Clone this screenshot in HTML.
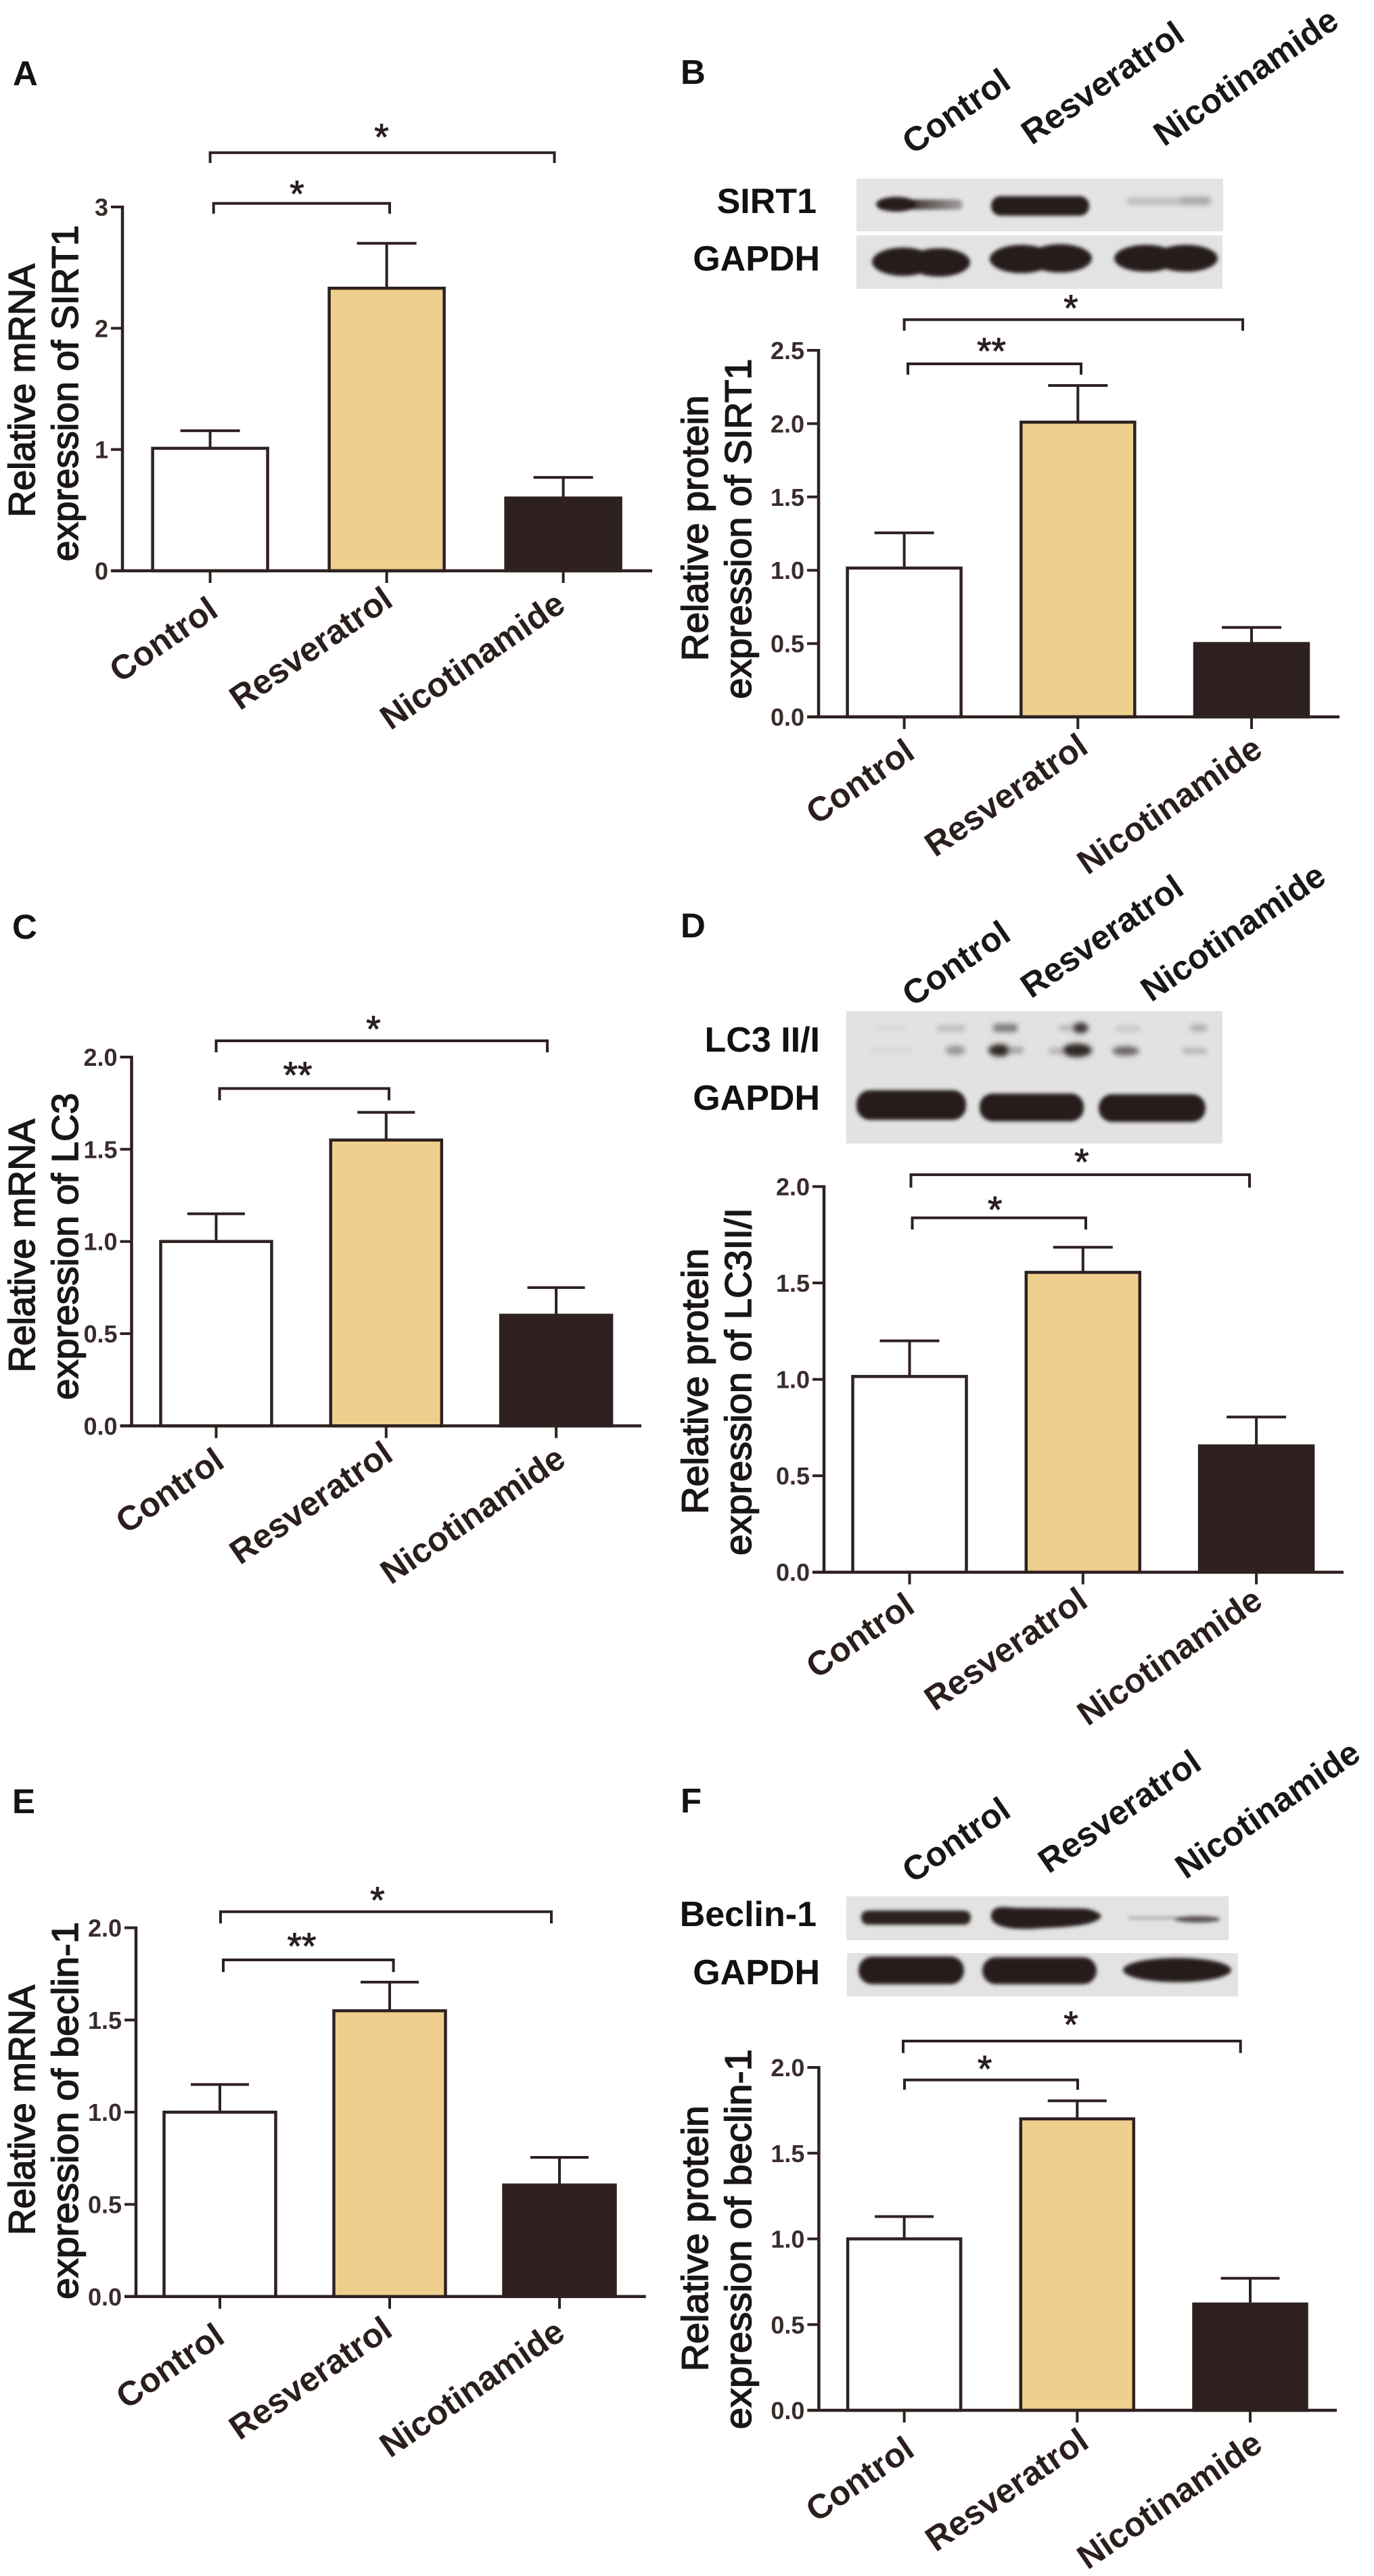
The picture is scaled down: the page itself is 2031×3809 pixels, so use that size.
<!DOCTYPE html>
<html lang="en">
<head>
<meta charset="utf-8">
<title>SIRT1, LC3 and Beclin-1 expression</title>
<style>
html,body{margin:0;padding:0;background:#fff;width:2031px;height:3809px;overflow:hidden}
svg{display:block}
text{font-family:"Liberation Sans",Arial,sans-serif}
.letter{font-size:51px;font-weight:700;fill:#141212}
.blot-label{font-size:52px;font-weight:700;fill:#111;text-anchor:end}
.lane{font-size:50.5px;font-weight:700;fill:#1a1716;text-anchor:end}
.d{fill:#271b1a}
</style>
</head>
<body>
<svg id="figure" xmlns="http://www.w3.org/2000/svg" width="2031" height="3809" viewBox="0 0 2031 3809">
<defs>
<filter id="soft" filterUnits="userSpaceOnUse" x="1200" y="0" width="831" height="3809"><feGaussianBlur stdDeviation="2.6"/></filter>
<filter id="softer" filterUnits="userSpaceOnUse" x="1200" y="0" width="831" height="3809"><feGaussianBlur stdDeviation="4"/></filter>
<linearGradient id="fade-right" x1="0" x2="1" y1="0" y2="0"><stop offset="0" stop-color="#271b1a"/><stop offset="0.45" stop-color="#4a403e"/><stop offset="1" stop-color="#a5a2a1"/></linearGradient>
</defs>
<rect x="0" y="0" width="2031" height="3809" fill="#ffffff"/>

<text class="letter" x="19" y="126">A</text>
<text class="letter" x="1006" y="124">B</text>
<text class="letter" x="18" y="1388">C</text>
<text class="letter" x="1006" y="1386">D</text>
<text class="letter" x="18" y="2681">E</text>
<text class="letter" x="1006" y="2680">F</text>

<!-- Panel B blot -->
<g>
<text class="lane" transform="translate(1497,128) rotate(-34.5)">Control</text>
<text class="lane" transform="translate(1754,58) rotate(-34.5)">Resveratrol</text>
<text class="lane" transform="translate(1982,38) rotate(-34.5)">Nicotinamide</text>
<text class="blot-label" x="1207" y="315">SIRT1</text>
<text class="blot-label" x="1212" y="400">GAPDH</text>
<rect x="1266" y="264" width="542" height="78" fill="#e4e4e4"/>
<rect x="1266" y="348" width="541" height="79" fill="#e3e3e3"/>
<g filter="url(#soft)">
<rect x="1297" y="295" width="126" height="15" rx="7" fill="url(#fade-right)"/>
<ellipse cx="1325" cy="302" rx="30" ry="11" class="d"/>
<rect x="1465" y="290" width="145" height="29" rx="14" class="d"/>
</g>
<g filter="url(#softer)">
<rect x="1665" y="292" width="125" height="11" rx="5" fill="#bfbebe"/>
<rect x="1745" y="291" width="45" height="12" rx="5" fill="#a8a6a6"/>
</g>
<g filter="url(#soft)">
<ellipse cx="1335" cy="387" rx="46" ry="21" class="d"/><ellipse cx="1388" cy="388" rx="46" ry="21" class="d"/>
<ellipse cx="1510" cy="383" rx="47" ry="21" class="d"/><ellipse cx="1567" cy="382" rx="47" ry="21" class="d"/>
<ellipse cx="1694" cy="382" rx="47" ry="20" class="d"/><ellipse cx="1753" cy="382" rx="47" ry="20" class="d"/>
</g>
</g>

<!-- Panel D blot -->
<g>
<text class="lane" transform="translate(1497,1388) rotate(-34.5)">Control</text>
<text class="lane" transform="translate(1753,1320) rotate(-34.5)">Resveratrol</text>
<text class="lane" transform="translate(1963,1303) rotate(-34.5)">Nicotinamide</text>
<text class="blot-label" x="1212" y="1555">LC3 II/I</text>
<text class="blot-label" x="1212" y="1641">GAPDH</text>
<rect x="1251" y="1495" width="556" height="196" fill="#e2e2e2"/>
<g filter="url(#softer)">
<rect x="1292" y="1517" width="45" height="6" fill="#d6d6d6"/>
<rect x="1385" y="1516" width="42" height="9" rx="3" fill="#bdbcbc"/>
<rect x="1468" y="1514" width="36" height="12" rx="4" fill="#7e7a79"/>
<rect x="1565" y="1516" width="24" height="8" rx="3" fill="#b4b2b2"/>
<ellipse cx="1597" cy="1520" rx="12" ry="8" fill="#3f3634"/>
<rect x="1650" y="1517" width="36" height="8" rx="3" fill="#c5c4c4"/>
<rect x="1760" y="1515" width="24" height="10" rx="4" fill="#acaaaa"/>
<rect x="1288" y="1550" width="60" height="7" fill="#d6d6d6"/>
<ellipse cx="1412" cy="1553" rx="15" ry="7" fill="#9a9796"/>
<ellipse cx="1478" cy="1553" rx="17" ry="9" fill="#2f2523"/><rect x="1490" y="1549" width="22" height="8" fill="#959291"/>
<rect x="1550" y="1550" width="30" height="8" rx="3" fill="#b0aeae"/>
<ellipse cx="1592" cy="1553" rx="22" ry="10" fill="#2f2523"/>
<ellipse cx="1664" cy="1554" rx="20" ry="7" fill="#6c6665"/>
<rect x="1748" y="1550" width="36" height="8" rx="3" fill="#b2b0b0"/>
</g>
<g filter="url(#soft)">
<rect x="1266" y="1612" width="162" height="44" rx="20" class="d"/>
<rect x="1448" y="1617" width="154" height="41" rx="19" class="d"/>
<rect x="1624" y="1618" width="158" height="41" rx="20" class="d"/>
</g>
</g>

<!-- Panel F blot -->
<g>
<text class="lane" transform="translate(1497,2684) rotate(-34.5)">Control</text>
<text class="lane" transform="translate(1779,2614) rotate(-34.5)">Resveratrol</text>
<text class="lane" transform="translate(2014,2600) rotate(-34.5)">Nicotinamide</text>
<text class="blot-label" x="1207" y="2848">Beclin-1</text>
<text class="blot-label" x="1212" y="2934">GAPDH</text>
<rect x="1251" y="2804" width="565" height="65" fill="#e3e3e3"/>
<rect x="1252" y="2888" width="578" height="64" fill="#e3e3e3"/>
<g filter="url(#soft)">
<rect x="1273" y="2825" width="162" height="21" rx="10" fill="#2c201f"/>
<path d="M1465 2834 C1465 2818 1480 2819 1500 2821 L1600 2822 C1615 2822 1628 2830 1628 2834 C1620 2844 1600 2849 1540 2851 C1500 2855 1465 2850 1465 2834Z" class="d"/>
<rect x="1668" y="2834" width="90" height="4" fill="#a9a7a7"/>
<ellipse cx="1770" cy="2838" rx="34" ry="5" fill="#5e5756"/>
</g>
<g filter="url(#soft)">
<rect x="1269" y="2893" width="156" height="41" rx="20" class="d"/>
<rect x="1452" y="2894" width="169" height="40" rx="20" class="d"/>
<ellipse cx="1740" cy="2913" rx="80" ry="18" class="d"/>
</g>
</g>
</svg>

<script>
const categories = ['Control', 'Resveratrol', 'Nicotinamide'];

const aValues = [1.01, 2.33, 0.60];
const aErrorTops = [1.155, 2.70, 0.77];
const aTicks = [0, 1, 2, 3];
const aTickLabels = ['0', '1', '2', '3'];

const bValues = [1.015, 2.01, 0.50];
const bErrorTops = [1.255, 2.26, 0.61];
const bTicks = [0, 0.5, 1, 1.5, 2, 2.5];
const bTickLabels = ['0.0', '0.5', '1.0', '1.5', '2.0', '2.5'];

const cValues = [1.0, 1.55, 0.60];
const cErrorTops = [1.15, 1.70, 0.75];
const cTicks = [0, 0.5, 1, 1.5, 2];
const cTickLabels = ['0.0', '0.5', '1.0', '1.5', '2.0'];

const dValues = [1.015, 1.555, 0.655];
const dErrorTops = [1.20, 1.685, 0.805];
const dTicks = [0, 0.5, 1, 1.5, 2];
const dTickLabels = ['0.0', '0.5', '1.0', '1.5', '2.0'];

const eValues = [1.0, 1.55, 0.605];
const eErrorTops = [1.15, 1.705, 0.755];
const eTicks = [0, 0.5, 1, 1.5, 2];
const eTickLabels = ['0.0', '0.5', '1.0', '1.5', '2.0'];

const fValues = [1.0, 1.70, 0.62];
const fErrorTops = [1.13, 1.805, 0.77];
const fTicks = [0, 0.5, 1, 1.5, 2];
const fTickLabels = ['0.0', '0.5', '1.0', '1.5', '2.0'];

const SVG_NS = 'http://www.w3.org/2000/svg';
const figure = document.getElementById('figure');
const INK = '#2e2120';
const FILLS = ['#ffffff', '#eecf8d', '#2d201e'];

function make(parent, tag, attrs, text) {
  const el = document.createElementNS(SVG_NS, tag);
  for (const key in attrs) el.setAttribute(key, attrs[key]);
  if (text !== undefined) el.textContent = text;
  parent.appendChild(el);
  return el;
}

function drawChart(id, values, errorTops, ticks, tickLabels, L) {
  const yMax = ticks[ticks.length - 1];
  const yScale = v => L.base - (v / yMax) * (L.base - L.top);
  const xScale = i => L.firstX + i * L.step;

  const panel = make(figure, 'g', {});
  
  

  const t1 = make(panel, 'text', { transform: 'translate(' + L.title1X + ',' + L.title1Y + ') rotate(-90)', 'text-anchor': 'middle', 'font-size': 55, fill: '#1a1615', stroke: '#1a1615', 'stroke-width': 1.6, textLength: L.title1Len, lengthAdjust: 'spacingAndGlyphs' }, L.title1);
  
  
  const t2 = make(panel, 'text', { transform: 'translate(' + L.title2X + ',' + L.title2Y + ') rotate(-90)', 'text-anchor': 'middle', 'font-size': 55, fill: '#1a1615', stroke: '#1a1615', 'stroke-width': 1.6, textLength: L.title2Len, lengthAdjust: 'spacingAndGlyphs' }, L.title2);
  
  

  values.forEach((v, i) => {
    const c = xScale(i);
    const stem = make(panel, 'line', { x1: c, x2: c, y1: yScale(v), y2: yScale(errorTops[i]), stroke: INK, 'stroke-width': 4 });
    
    
    const cap = make(panel, 'line', { x1: c - L.capW / 2, x2: c + L.capW / 2, y1: yScale(errorTops[i]), y2: yScale(errorTops[i]), stroke: INK, 'stroke-width': 4 });
    
    
    const bar = make(panel, 'rect', { x: c - L.barW / 2 + 2, y: yScale(v), width: L.barW - 4, height: L.base - yScale(v), fill: FILLS[i], stroke: INK, 'stroke-width': 4.5 });
    
    
  });

  const yAxis = make(panel, 'line', { x1: L.axisX, x2: L.axisX, y1: yScale(yMax) - 2, y2: L.base + 2, stroke: INK, 'stroke-width': 4.5 });
  
  
  const xAxis = make(panel, 'line', { x1: L.axisX - 17, x2: L.xEnd, y1: L.base, y2: L.base, stroke: INK, 'stroke-width': 4.5 });
  
  

  ticks.forEach((t, i) => {
    const y = yScale(t);
    const mark = make(panel, 'line', { x1: L.axisX - 17, x2: L.axisX, y1: y, y2: y, stroke: INK, 'stroke-width': 4 });
    
    
    const label = make(panel, 'text', { x: L.axisX - 21, y: y + 13, 'text-anchor': 'end', 'font-size': 36, 'font-weight': 700, fill: '#3a2c2a' }, tickLabels[i]);
    
    
  });

  categories.forEach((name, i) => {
    const c = xScale(i);
    const mark = make(panel, 'line', { x1: c, x2: c, y1: L.base, y2: L.base + 18, stroke: INK, 'stroke-width': 4 });
    
    
    const label = make(panel, 'text', { transform: 'translate(' + (c + L.labelDx[i]) + ',' + (L.base + L.labelDy[i]) + ') rotate(-34.5)', 'text-anchor': 'end', 'font-size': 50.5, 'font-weight': 700, fill: '#2b1f1e' }, name);
    
    
  });

  L.brackets.forEach(b => {
    const path = make(panel, 'path', { d: 'M' + b.x1 + ' ' + b.yEnd + ' V' + b.y + ' H' + b.x2 + ' V' + b.yEnd, fill: 'none', stroke: INK, 'stroke-width': 4 });
    
    
    const star = make(panel, 'text', { x: b.starX, y: b.starY + 26, 'text-anchor': 'middle', 'font-size': 55, fill: '#2a201f', stroke: '#2a201f', 'stroke-width': 1 }, b.mark);
    
    
  });
}

drawChart('a', aValues, aErrorTops, aTicks, aTickLabels, {
  axisX: 181, base: 844, top: 306, xEnd: 964, firstX: 310.6, step: 261, barW: 174, capW: 88,
  labelDx: [14.6, 12, 6], labelDy: [65, 50, 57],
  title1: 'Relative mRNA', title1X: 51, title1Y: 577.5, title1Len: 375,
  title2: 'expression of SIRT1', title2X: 115, title2Y: 581.5, title2Len: 497,
  brackets: [
    { x1: 310.6, x2: 819.5, y: 225.7, yEnd: 241, starX: 564, starY: 195, mark: '*' },
    { x1: 315.7, x2: 576, y: 300.7, yEnd: 316, starX: 439, starY: 279, mark: '*' }
  ]
});

drawChart('b', bValues, bErrorTops, bTicks, bTickLabels, {
  axisX: 1210, base: 1060, top: 518, xEnd: 1980, firstX: 1336.6, step: 256.7, barW: 172, capW: 88,
  labelDx: [18.4, 18, 19], labelDy: [59, 51, 55],
  title1: 'Relative protein', title1X: 1046, title1Y: 781, title1Len: 393,
  title2: 'expression of SIRT1', title2X: 1110, title2Y: 782, title2Len: 503,
  brackets: [
    { x1: 1336.6, x2: 1837, y: 472.6, yEnd: 489, starX: 1583, starY: 448, mark: '*' },
    { x1: 1342, x2: 1598, y: 538, yEnd: 554, starX: 1465.5, starY: 511.6, mark: '**' }
  ]
});

drawChart('c', cValues, cErrorTops, cTicks, cTickLabels, {
  axisX: 194.5, base: 2108.4, top: 1563, xEnd: 948, firstX: 319.5, step: 251.3, barW: 168, capW: 85,
  labelDx: [15, 13, 17], labelDy: [59, 49, 56],
  title1: 'Relative mRNA', title1X: 51, title1Y: 1842, title1Len: 375,
  title2: 'expression of LC3', title2X: 115, title2Y: 1843, title2Len: 454,
  brackets: [
    { x1: 319.5, x2: 809, y: 1539, yEnd: 1556, starX: 552, starY: 1514, mark: '*' },
    { x1: 324.6, x2: 575, y: 1609.5, yEnd: 1627, starX: 440, starY: 1582, mark: '**' }
  ]
});

drawChart('d', dValues, dErrorTops, dTicks, dTickLabels, {
  axisX: 1218, base: 2324.7, top: 1754.5, xEnd: 1986, firstX: 1344.5, step: 256.3, barW: 172, capW: 88,
  labelDx: [10.5, 10, 12], labelDy: [57, 49, 49],
  title1: 'Relative protein', title1X: 1046, title1Y: 2042.5, title1Len: 393,
  title2: 'expression of LC3II/I', title2X: 1110, title2Y: 2043, title2Len: 514,
  brackets: [
    { x1: 1346.5, x2: 1847, y: 1737, yEnd: 1756, starX: 1599, starY: 1710.7, mark: '*' },
    { x1: 1348.5, x2: 1605, y: 1800.8, yEnd: 1818, starX: 1470.7, starY: 1781, mark: '*' }
  ]
});

drawChart('e', eValues, eErrorTops, eTicks, eTickLabels, {
  axisX: 201, base: 3395.8, top: 2850.5, xEnd: 954.7, firstX: 325, step: 251, barW: 169, capW: 86,
  labelDx: [10, 7, 11], labelDy: [66, 56, 60],
  title1: 'Relative mRNA', title1X: 51, title1Y: 3120, title1Len: 370,
  title2: 'expression of beclin-1', title2X: 115, title2Y: 3121, title2Len: 558,
  brackets: [
    { x1: 326, x2: 815, y: 2826.7, yEnd: 2844, starX: 558, starY: 2802, mark: '*' },
    { x1: 330, x2: 581.6, y: 2898, yEnd: 2916, starX: 446, starY: 2870, mark: '**' }
  ]
});

drawChart('f', fValues, fErrorTops, fTicks, fTickLabels, {
  axisX: 1210.4, base: 3564, top: 3057, xEnd: 1976, firstX: 1336.6, step: 255.7, barW: 171, capW: 87,
  labelDx: [18, 20, 21], labelDy: [65, 53, 57],
  title1: 'Relative protein', title1X: 1046, title1Y: 3310, title1Len: 393,
  title2: 'expression of beclin-1', title2X: 1110, title2Y: 3311, title2Len: 562,
  brackets: [
    { x1: 1335, x2: 1833.7, y: 3018, yEnd: 3035.7, starX: 1583, starY: 2986, mark: '*' },
    { x1: 1337, x2: 1593, y: 3075.5, yEnd: 3090, starX: 1455.6, starY: 3051.6, mark: '*' }
  ]
});
</script>
</body>
</html>
